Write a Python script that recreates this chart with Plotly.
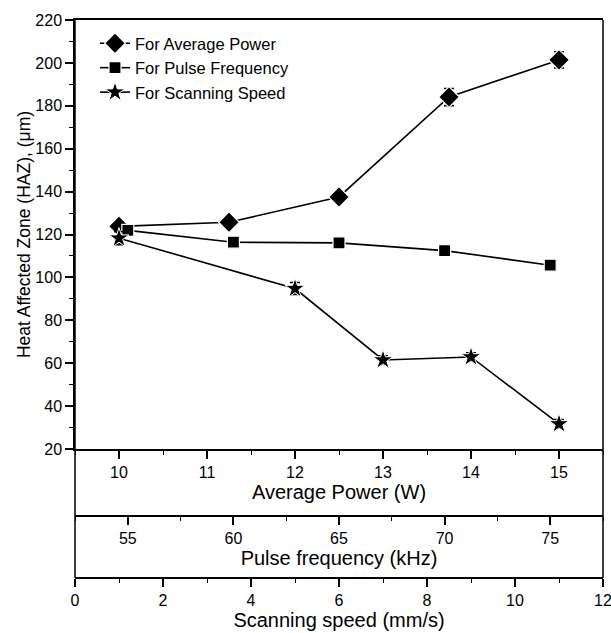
import plotly.graph_objects as go

# Data
power_w = [10, 11.25, 12.5, 13.75, 15]
haz_power = [123.8, 125.7, 137.5, 184.1, 201.4]
err_power = [2.0, 2.2, 2.2, 4.0, 3.8]

freq_khz = [55, 60, 65, 70, 75]
haz_freq = [121.9, 116.4, 116.1, 112.5, 105.7]
err_freq = [1.5, 1.5, 1.5, 1.5, 1.5]

speed_mms = [1, 5, 7, 9, 11]
haz_speed = [118.3, 94.8, 61.5, 62.9, 31.7]
err_speed = [3.0, 2.8, 2.0, 2.0, 2.0]

power_ticks = [10, 11, 12, 13, 14, 15]
freq_ticks = [55, 60, 65, 70, 75]
speed_ticks = [0, 2, 4, 6, 8, 10, 12]
y_ticks = [20, 40, 60, 80, 100, 120, 140, 160, 180, 200, 220]

FONT = "Liberation Sans, Arial, sans-serif"
BLACK = "#000000"

fig = go.Figure()

common_line = dict(color=BLACK, width=1.6)

fig.add_trace(go.Scatter(
    x=power_w, y=haz_power, xaxis="x", yaxis="y",
    mode="lines+markers", name="For Average Power",
    line=common_line,
    marker=dict(symbol="diamond", size=16, color=BLACK, line=dict(color="white", width=1.2)),
    error_y=dict(type="data", array=err_power, color=BLACK, thickness=1.6, width=5),
))
fig.add_trace(go.Scatter(
    x=freq_khz, y=haz_freq, xaxis="x2", yaxis="y",
    mode="lines+markers", name="For Pulse Frequency",
    line=common_line,
    marker=dict(symbol="square", size=12, color=BLACK, line=dict(color="white", width=1.2)),
    error_y=dict(type="data", array=err_freq, color=BLACK, thickness=1.6, width=5),
))
fig.add_trace(go.Scatter(
    x=speed_mms, y=haz_speed, xaxis="x3", yaxis="y",
    mode="lines+markers", name="For Scanning Speed",
    line=common_line,
    marker=dict(symbol="star", size=15, color=BLACK, line=dict(color="white", width=1.0)),
    error_y=dict(type="data", array=err_speed, color=BLACK, thickness=1.6, width=5),
))

W, H = 611, 633
mt, mb, ml, mr = 20, 55, 75, 8
paper_h = H - mt - mb
paper_w = W - ml - mr
y_bottom = (578 - 449) / paper_h
freq_pos = (578 - 516) / paper_h

tickfont = dict(family=FONT, size=16, color=BLACK)
titlefont = dict(family=FONT, size=20, color=BLACK)

minor_common = dict(ticks="outside", ticklen=4, tickwidth=1.2, tickcolor=BLACK, showgrid=False)

xaxis_common = dict(
    showline=True, linecolor=BLACK, linewidth=1.5,
    ticks="outside", ticklen=8, tickwidth=1.5, tickcolor=BLACK,
    showgrid=False, zeroline=False, tickfont=tickfont, automargin=False,
    ticklabeloverflow="allow",
)

fig.update_layout(
    width=W, height=H,
    margin=dict(t=mt, b=mb, l=ml, r=mr, autoexpand=False),
    paper_bgcolor="white", plot_bgcolor="white",
    font=dict(family=FONT, color=BLACK),
    showlegend=True,
    legend=dict(
        x=20 / paper_w, y=1 - 6 / paper_h, xanchor="left", yanchor="top",
        bgcolor="rgba(0,0,0,0)", font=dict(family=FONT, size=16.5, color=BLACK),
        tracegroupgap=0, itemwidth=30,
    ),
    yaxis=dict(
        domain=[y_bottom, 1], range=[20, 220],
        tickvals=y_ticks, ticktext=[str(v) for v in y_ticks],
        showline=True, linecolor=BLACK, linewidth=1.5,
        ticks="outside", ticklen=8, tickwidth=1.5, tickcolor=BLACK,
        minor=dict(dtick=10, **minor_common),
        showgrid=False, zeroline=False, tickfont=tickfont, automargin=False,
        title=dict(text="Heat Affected Zone (HAZ), (μm)", font=dict(family=FONT, size=17.5, color=BLACK), standoff=0),
    ),
    xaxis=dict(
        **xaxis_common,
        range=[9.5, 15.5], tickvals=power_ticks, ticktext=[str(v) for v in power_ticks],
        minor=dict(dtick=0.5, tick0=9.5, **minor_common),
        anchor="y", mirror=True,
        title=dict(text="Average Power (W)", font=titlefont, standoff=0),
    ),
    xaxis2=dict(
        **xaxis_common,
        range=[52.5, 77.5], tickvals=freq_ticks, ticktext=[str(v) for v in freq_ticks],
        minor=dict(dtick=2.5, tick0=52.5, **minor_common),
        anchor="free", position=freq_pos, overlaying="x", side="bottom",
        title=dict(text="Pulse frequency (kHz)", font=titlefont, standoff=2),
    ),
    xaxis3=dict(
        **xaxis_common,
        range=[0, 12], tickvals=speed_ticks, ticktext=[str(v) for v in speed_ticks],
        minor=dict(dtick=1, tick0=0, **minor_common),
        anchor="free", position=0, overlaying="x", side="bottom",
        title=dict(text="Scanning speed (mm/s)", font=titlefont, standoff=1),
    ),
    shapes=[
        dict(type="line", xref="paper", yref="paper", x0=0, x1=0, y0=0, y1=1,
             line=dict(color=BLACK, width=1.5)),
        dict(type="line", xref="paper", yref="paper", x0=1, x1=1, y0=0, y1=1,
             line=dict(color=BLACK, width=1.5)),
    ],
)

fig.write_html(
    "out.html",
    config={"displayModeBar": False},
    post_script="document.body.style.margin='0';document.body.style.overflow='hidden';",
)
